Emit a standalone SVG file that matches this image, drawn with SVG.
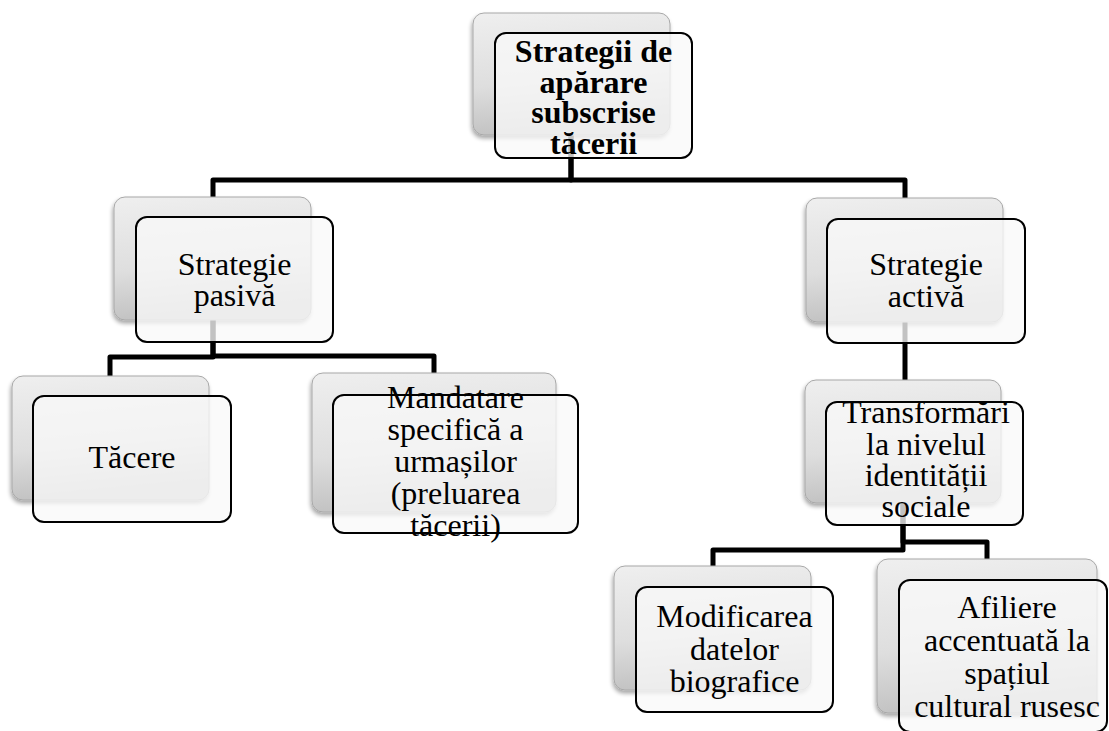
<svg xmlns="http://www.w3.org/2000/svg" width="1109" height="731" viewBox="0 0 1109 731">
<defs>
<linearGradient id="bg" x1="0" y1="0" x2="0.15" y2="1">
<stop offset="0" stop-color="#efefef"/>
<stop offset="0.6" stop-color="#dedede"/>
<stop offset="1" stop-color="#c2c2c2"/>
</linearGradient>
<filter id="sh" x="-10%" y="-10%" width="120%" height="125%">
<feGaussianBlur in="SourceAlpha" stdDeviation="2"/>
<feOffset dx="-1" dy="3" result="o"/>
<feComponentTransfer><feFuncA type="linear" slope="0.35"/></feComponentTransfer>
<feMerge><feMergeNode/><feMergeNode in="SourceGraphic"/></feMerge>
</filter>
</defs>
<style>
.back{fill:url(#bg);stroke:#a8a8a8;stroke-width:1;filter:url(#sh)}
.front{fill:#f8f8f8;fill-opacity:0.78;stroke:#000;stroke-width:2}
.t{font-family:"Liberation Serif","Times New Roman",serif;font-size:32px;fill:#000;text-anchor:middle}
.b{font-weight:bold}
.c{fill:none;stroke:#000;stroke-width:5;stroke-linejoin:round}
</style>
<g id="connectors">
<path class="c" d="M571 135 V180 H213 V197"/>
<path class="c" d="M571 135 V180 H905 V198"/>
<path class="c" d="M213 320 V357 H110 V376"/>
<path class="c" d="M213 320 V356 H434 V373"/>
<path class="c" d="M905 322 V380"/>
<path class="c" d="M903 503 V550 H713 V566"/>
<path class="c" d="M903 503 V542 H987 V559"/>
</g>
<g id="n-root">
<rect class="back" x="473" y="13" width="197" height="122" rx="11"/>
<rect class="front" x="495" y="33" width="197" height="125" rx="11"/>
<text class="t b" x="593.5"><tspan x="593.5" y="62">Strategii de</tspan><tspan x="593.5" y="93">apărare</tspan><tspan x="593.5" y="123">subscrise</tspan><tspan x="593.5" y="154">tăcerii</tspan></text>
</g>
<g id="n-pasiva">
<rect class="back" x="114" y="197" width="197" height="123" rx="11"/>
<rect class="front" x="136" y="217" width="197" height="125" rx="11"/>
<text class="t"><tspan x="234.5" y="275">Strategie</tspan><tspan x="234.5" y="306">pasivă</tspan></text>
</g>
<g id="n-activa">
<rect class="back" x="806" y="198" width="197" height="124" rx="11"/>
<rect class="front" x="827" y="219" width="198" height="124" rx="11"/>
<text class="t"><tspan x="926" y="275">Strategie</tspan><tspan x="926" y="307">activă</tspan></text>
</g>
<g id="n-tacere">
<rect class="back" x="12" y="376" width="197" height="124" rx="11"/>
<rect class="front" x="33" y="396" width="198" height="126" rx="11"/>
<text class="t" x="132" y="468">Tăcere</text>
</g>
<g id="n-mandatare">
<rect class="back" x="312" y="373" width="244" height="139" rx="11"/>
<rect class="front" x="333" y="395" width="245" height="138" rx="11"/>
<text class="t"><tspan x="455.5" y="408">Mandatare</tspan><tspan x="455.5" y="440">specifică a</tspan><tspan x="455.5" y="472">urmașilor</tspan><tspan x="455.5" y="504">(preluarea</tspan><tspan x="455.5" y="536">tăcerii)</tspan></text>
</g>
<g id="n-transformari">
<rect class="back" x="805" y="380" width="196" height="123" rx="11"/>
<rect class="front" x="826" y="402" width="197" height="123" rx="11"/>
<text class="t"><tspan x="926" y="423">Transformări</tspan><tspan x="926" y="455">la nivelul</tspan><tspan x="926" y="486">identității</tspan><tspan x="926" y="517">sociale</tspan></text>
</g>
<g id="n-modificarea">
<rect class="back" x="614" y="566" width="197" height="124" rx="11"/>
<rect class="front" x="636" y="587" width="197" height="125" rx="11"/>
<text class="t"><tspan x="734.5" y="627">Modificarea</tspan><tspan x="734.5" y="660">datelor</tspan><tspan x="734.5" y="692">biografice</tspan></text>
</g>
<g id="n-afiliere">
<rect class="back" x="877" y="559" width="220" height="154" rx="11"/>
<rect class="front" x="899" y="580" width="208" height="152" rx="11"/>
<text class="t"><tspan x="1007" y="618">Afiliere</tspan><tspan x="1007" y="651">accentuată la</tspan><tspan x="1007" y="684">spațiul</tspan><tspan x="1007" y="717">cultural rusesc</tspan></text>
</g>
</svg>
